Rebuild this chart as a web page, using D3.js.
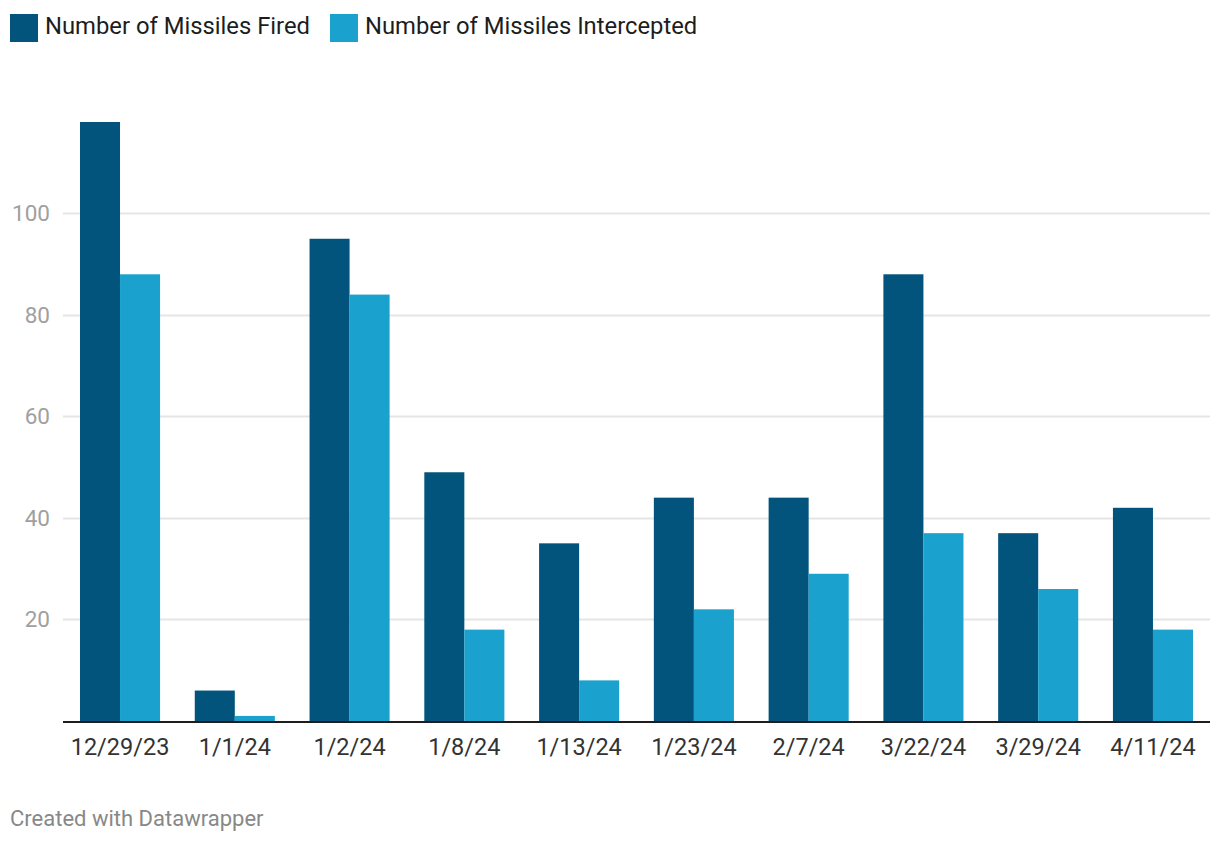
<!DOCTYPE html>
<html>
<head>
<meta charset="utf-8">
<script src="https://cdn.jsdelivr.net/npm/d3@7"></script>
<style>
  body { margin: 0; background: #fff; font-family: Roboto, sans-serif; }
</style>
</head>
<body>
<div id="chart"></div>
<script>
const dates = ['12/29/23', '1/1/24', '1/2/24', '1/8/24', '1/13/24', '1/23/24', '2/7/24', '3/22/24', '3/29/24', '4/11/24'];
const fired = [118, 6, 95, 49, 35, 44, 44, 88, 37, 42];
const intercepted = [88, 1, 84, 18, 8, 22, 29, 37, 26, 18];
const seriesNames = ['Number of Missiles Fired', 'Number of Missiles Intercepted'];
const seriesColors = ['#02547c', '#1aa1ce'];
const yTicks = [20, 40, 60, 80, 100];

const width = 1220, height = 844;
const margin = {top: 60, right: 10, bottom: 123, left: 63};

const svg = d3.select('#chart').append('svg')
    .attr('width', width)
    .attr('height', height)
    .style('font-family', 'Roboto, sans-serif');

// legend
const legend = svg.append('g').attr('transform', 'translate(10, 14)');
let lx = 0;
seriesNames.forEach((name, i) => {
    const g = legend.append('g').attr('transform', `translate(${lx}, 0)`);
    g.append('rect').attr('width', 28).attr('height', 28).attr('fill', seriesColors[i]);
    const t = g.append('text')
        .attr('x', 35).attr('y', 20)
        .attr('font-size', 23.8)
        .attr('fill', '#1d1d1d')
        .text(name);
    lx += 35 + t.node().getComputedTextLength() + 20;
});

const y = d3.scaleLinear()
    .domain([0, 118])
    .range([height - margin.bottom, 122]);

const x = d3.scaleBand()
    .domain(dates)
    .range([80, 1193])
    .paddingInner(0.3024)
    .paddingOuter(0);

const xSub = d3.scaleBand()
    .domain([0, 1])
    .range([0, x.bandwidth()]);

// gridlines + y labels
const grid = svg.append('g');
grid.selectAll('line')
    .data(yTicks)
    .join('line')
    .attr('x1', margin.left).attr('x2', width - margin.right)
    .attr('y1', d => Math.round(y(d)) + 0.5).attr('y2', d => Math.round(y(d)) + 0.5)
    .attr('stroke', '#e5e5e5').attr('stroke-width', 2);
grid.selectAll('text')
    .data(yTicks)
    .join('text')
    .attr('x', 50).attr('y', d => y(d) + 8)
    .attr('text-anchor', 'end')
    .attr('font-size', 22.5)
    .attr('fill', '#a0a0a0')
    .text(d => d);

// bars
const groups = svg.append('g')
    .selectAll('g')
    .data(dates.map((d, i) => ({date: d, values: [fired[i], intercepted[i]]})))
    .join('g')
    .attr('transform', d => `translate(${x(d.date)}, 0)`);

groups.selectAll('rect')
    .data(d => d.values.map((v, i) => ({v, i})))
    .join('rect')
    .attr('x', d => xSub(d.i))
    .attr('width', xSub.bandwidth())
    .attr('y', d => y(d.v))
    .attr('height', d => y(0) - y(d.v))
    .attr('fill', d => seriesColors[d.i]);

// baseline
svg.append('line')
    .attr('x1', margin.left).attr('x2', width - margin.right)
    .attr('y1', y(0) + 1).attr('y2', y(0) + 1)
    .attr('stroke', '#1d1d1d').attr('stroke-width', 2);

// x labels
svg.append('g')
    .selectAll('text')
    .data(dates)
    .join('text')
    .attr('x', d => x(d) + x.bandwidth() / 2)
    .attr('y', y(0) + 34)
    .attr('text-anchor', 'middle')
    .attr('font-size', 23.5)
    .attr('fill', '#333')
    .text(d => d);

// footer
svg.append('text')
    .attr('x', 10).attr('y', 826)
    .attr('font-size', 22)
    .attr('fill', '#888')
    .text('Created with Datawrapper');
</script>
</body>
</html>
